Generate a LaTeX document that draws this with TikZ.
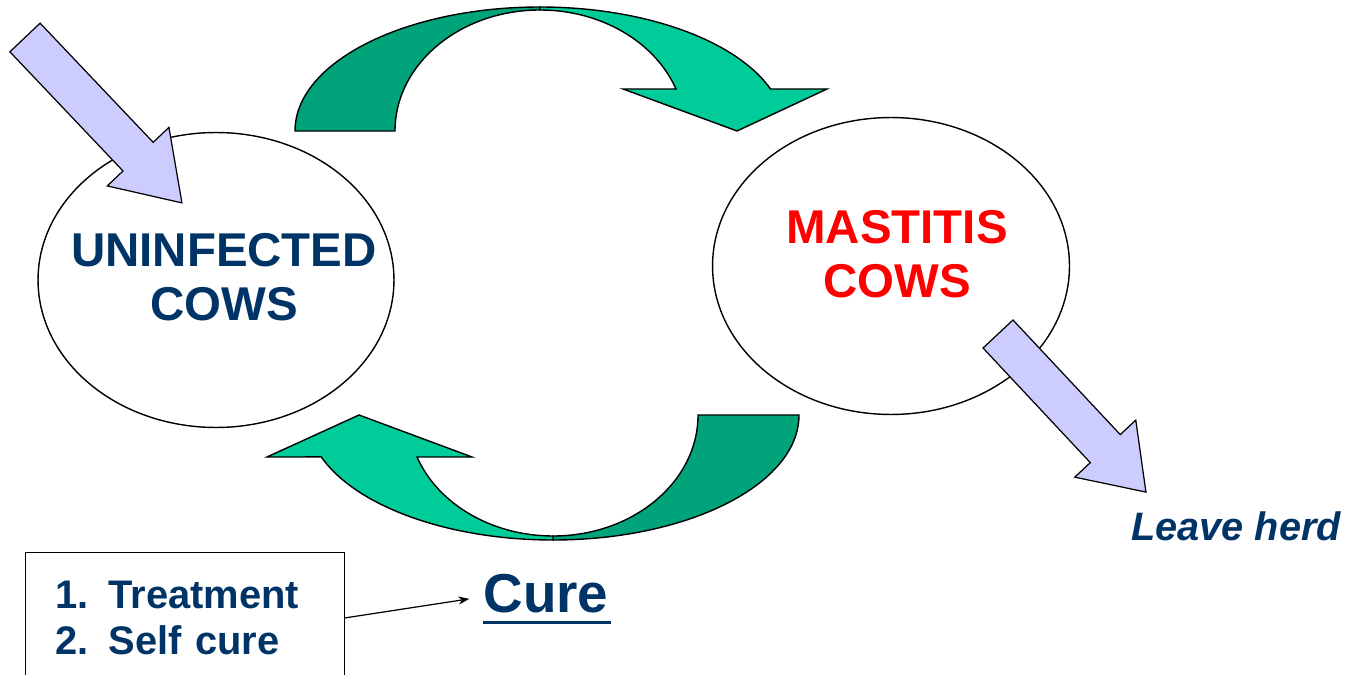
\documentclass[tikz,border=0pt]{standalone}
\usepackage{fontspec}
\setmainfont{Liberation Sans}
\usepackage{tikz}
\usetikzlibrary{arrows.meta,calc,shapes.geometric}
\definecolor{cownavy}{RGB}{0,51,102}
\definecolor{cowred}{RGB}{255,0,0}
\definecolor{tealdark}{RGB}{0,163,122}
\definecolor{teallight}{RGB}{0,204,153}
\definecolor{lavender}{RGB}{204,204,255}

\begin{document}
\begin{tikzpicture}[x=0.02cm,y=-0.02cm,>=Stealth,
		cow/.style={draw,ellipse,line width=0.8pt,minimum width=7.12cm,minimum height=5.9cm},
		cowtext/.style={font=\bfseries\fontsize{27}{30.6}\selectfont,align=center},
		band/.style={draw,line width=0.8pt,line join=miter},
		blockarrow/.style={draw,fill=lavender,line width=0.7pt}]
		\useasboundingbox (0,0) rectangle (1351,675);
		\coordinate (topc) at (540,131);
		\coordinate (botc) at (553,415);
		\filldraw[band,fill=tealdark] ($(topc)+(180:245 and 124)$) arc[start angle=180,end angle=270,x radius=245,y radius=124]
		-- ($(topc)+(270:145 and 121)$) arc[start angle=270,end angle=180,x radius=145,y radius=121] -- cycle;
		\filldraw[band,fill=teallight] ($(topc)+(270:245 and 124)$) arc[start angle=270,end angle=340.2,x radius=245,y radius=124]
		-- (827,89) -- (737,131) -- (623,89)
		-- ($(topc)+(339.7:145 and 121)$) arc[start angle=339.7,end angle=270,x radius=145,y radius=121] -- cycle;
		\filldraw[band,fill=tealdark] ($(botc)+(0:246 and 125)$) arc[start angle=0,end angle=90,x radius=246,y radius=125]
		-- ($(botc)+(90:145 and 121)$) arc[start angle=90,end angle=0,x radius=145,y radius=121] -- cycle;
		\filldraw[band,fill=teallight] ($(botc)+(90:246 and 125)$) arc[start angle=90,end angle=160.4,x radius=246,y radius=125]
		-- (267,457) -- (359,415) -- (472,457)
		-- ($(botc)+(159.7:145 and 121)$) arc[start angle=159.7,end angle=90,x radius=145,y radius=121] -- cycle;
		\node[cow,label={[cowtext,text=cownavy,xshift=0.16cm,yshift=0.06cm]center:UNINFECTED\\COWS}] (uninf) at (216,280) {};
		\node[cow,minimum width=7.14cm,minimum height=5.94cm,label={[cowtext,text=cowred,xshift=0.12cm,yshift=0.24cm]center:MASTITIS\\COWS}] (mast) at (891,266) {};
		\coordinate (inflow) at (25,37.5);
		\coordinate (outflow) at (998,334);
		\draw[blockarrow,shift={(inflow)},rotate=-46.5] (0,-20.8) -- (164.3,-20.8) -- (164.3,-42.5) -- (228,0) -- (164.3,42.5) -- (164.3,20.8) -- (0,20.8) -- cycle;
		\draw[blockarrow,shift={(outflow)},rotate=-46.9] (0,-20.5) -- (157,-20.5) -- (157,-41.75) -- (216.5,0) -- (157,41.75) -- (157,20.5) -- (0,20.5) -- cycle;
		\node[anchor=base,text=cownavy,font=\bfseries\itshape\fontsize{22.6}{27}\selectfont] (leave) at (1236,540) {Leave herd};
		\node[anchor=north west,draw,line width=0.7pt,text=cownavy,font=\bfseries\fontsize{22.7}{26.6}\selectfont,text width=5.18cm,align=left,inner xsep=0.6cm,inner ysep=0.56cm] (list) at (25,552) {\makebox[1.06cm][l]{1.}Treatment\\\makebox[1.06cm][l]{2.}Self cure};
		\node[anchor=base,text=cownavy,font=\bfseries\fontsize{31.2}{37}\selectfont,inner xsep=0.28cm,inner ysep=0.1cm] (cure) at (546,612) {\rlap{\hspace{-0.02cm}\rule[-0.24cm]{2.56cm}{0.06cm}}Cure};
		\draw[->,line width=0.7pt] (list.east) -- (cure.west);
\end{tikzpicture}
\end{document}
